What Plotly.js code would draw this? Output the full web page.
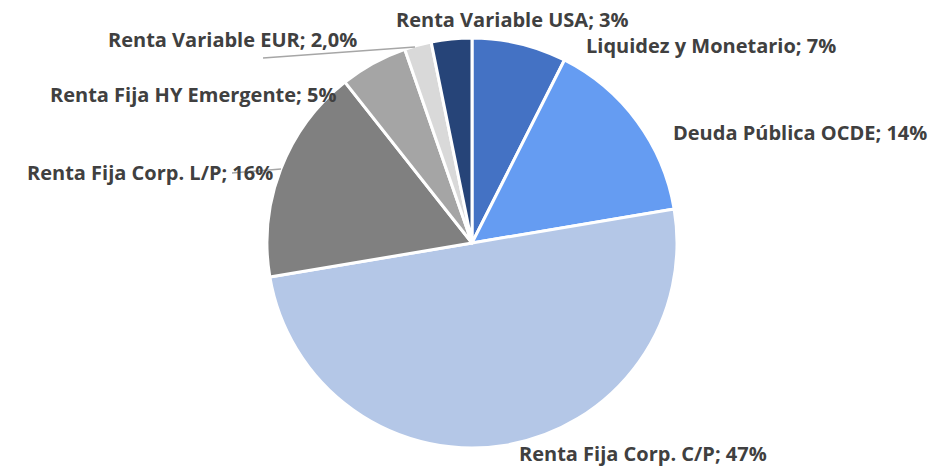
<!DOCTYPE html>
<html><head><meta charset="utf-8">
<script src="https://cdn.plot.ly/plotly-3.0.1.min.js"></script>
<style>html,body{margin:0;padding:0;background:#fff}#chart{width:936px;height:467px}</style>
</head><body><div id="chart"></div>
<script>
const categories = ["Liquidez y Monetario","Deuda Pública OCDE","Renta Fija Corp. C/P","Renta Fija Corp. L/P","Renta Fija HY Emergente","Renta Variable EUR","Renta Variable USA"];
const values = [7, 14, 47, 16, 5, 2.0, 3];
const valueLabels = ["7%","14%","47%","16%","5%","2,0%","3%"];
const colors = ["#4472C4","#659CF2","#B4C7E7","#808080","#A5A5A5","#D9D9D9","#264478"];
// label anchor positions in pixels (layout only)
const labelPos = [[711,46],[800,133],[643,453],[150,172],[193,95],[232,40],[512,20]];

const W=936,H=467;
const annotations = categories.map((c,i)=>({
  text: c + "; " + valueLabels[i],
  x: labelPos[i][0]/W, y: 1-labelPos[i][1]/H, xref:'paper', yref:'paper',
  xanchor:'center', yanchor:'middle', showarrow:false,
  font:{family:'Open Sans, sans-serif', size:20, color:'#404040', weight:700}
}));
const shapes = [
  {type:'line', xref:'paper', yref:'paper', x0:263/W, y0:1-58/H, x1:415/W, y1:1-47/H, line:{color:'#A6A6A6', width:1.5}},
  {type:'line', xref:'paper', yref:'paper', x0:232/W, y0:1-173/H, x1:281/W, y1:1-169/H, line:{color:'#A6A6A6', width:1.5}}
];
const cx=472, cy=243, r=205;
Plotly.newPlot('chart',[{
  type:'pie', labels:categories, values:values, sort:false, direction:'clockwise', rotation:0,
  marker:{colors:colors, line:{color:'#FFFFFF', width:3}},
  textinfo:'none', hoverinfo:'label+value', showlegend:false,
  domain:{x:[(cx-r)/W,(cx+r)/W], y:[(H-cy-r)/H,(H-cy+r)/H]}
}],{
  width:W, height:H, margin:{l:0,r:0,t:0,b:0}, paper_bgcolor:'#fff', showlegend:false,
  annotations:annotations, shapes:shapes
},{displayModeBar:false, staticPlot:true});
</script></body></html>
